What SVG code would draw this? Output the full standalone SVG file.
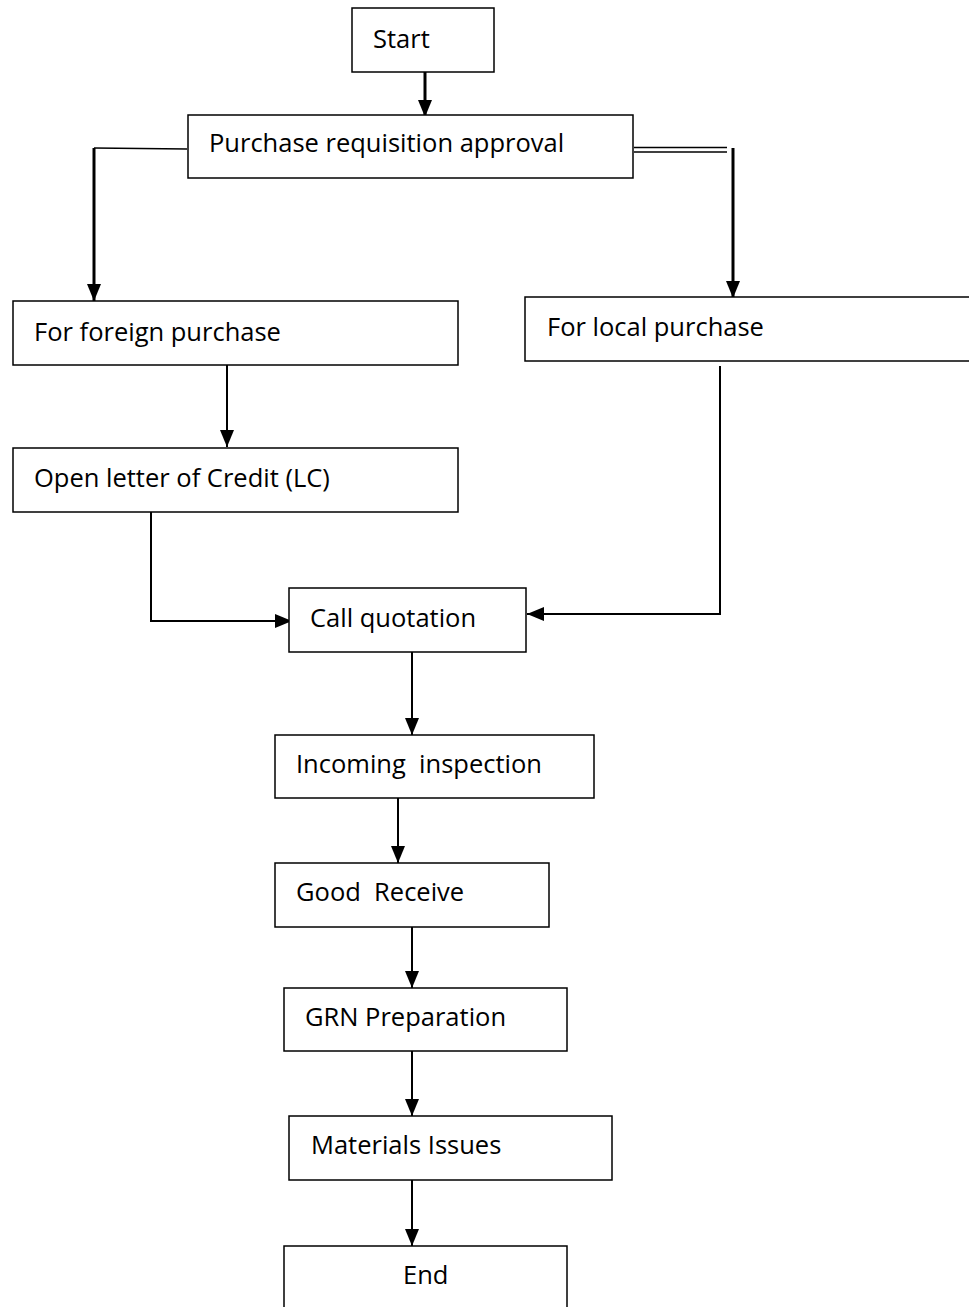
<svg xmlns="http://www.w3.org/2000/svg" width="969" height="1307" viewBox="0 0 969 1307">
<defs>
<style>
.box{fill:#fff;stroke:#000;stroke-width:1.5}
.lbl{font-family:"Open Sans","Noto Sans",sans-serif;font-size:25.5px;fill:#000}
.ln{fill:none;stroke:#000;stroke-width:1.5}
.ar{fill:none;stroke:#000;stroke-width:2}
.thk{stroke-width:3}
</style>
<marker id="ah" viewBox="0 0 17 14" refX="17" refY="7" markerWidth="17" markerHeight="14" markerUnits="userSpaceOnUse" orient="auto">
<path d="M0,0 L17,7 L0,14 Z" fill="#000"/>
</marker>
</defs>
<rect width="969" height="1307" fill="#fff"/>
<g id="connectors">
<line class="ar thk" x1="425" y1="72" x2="425" y2="117" marker-end="url(#ah)"/>
<polyline class="ln" points="187,149 94,148"/>
<line class="ar thk" x1="94" y1="148" x2="94" y2="301" marker-end="url(#ah)"/>
<line class="ln" x1="634" y1="147.5" x2="727" y2="147.5"/>
<line class="ln" x1="634" y1="152" x2="727" y2="152"/>
<line class="ar thk" x1="733" y1="148" x2="733" y2="298" marker-end="url(#ah)"/>
<line class="ar" x1="227" y1="362" x2="227" y2="447" marker-end="url(#ah)"/>
<polyline class="ar" points="151,507 151,621 292,621" marker-end="url(#ah)"/>
<polyline class="ar" points="720,366 720,614 527,614" marker-end="url(#ah)"/>
<line class="ar" x1="412" y1="652" x2="412" y2="735" marker-end="url(#ah)"/>
<line class="ar" x1="398" y1="798" x2="398" y2="863" marker-end="url(#ah)"/>
<line class="ar" x1="412" y1="927" x2="412" y2="988" marker-end="url(#ah)"/>
<line class="ar" x1="412" y1="1051" x2="412" y2="1116" marker-end="url(#ah)"/>
<line class="ar" x1="412" y1="1180" x2="412" y2="1246" marker-end="url(#ah)"/>
</g>
<g id="start"><rect class="box" x="352" y="8" width="142" height="64"/><text class="lbl" x="373" y="48">Start</text></g>
<g id="approval"><rect class="box" x="188" y="115" width="445" height="63"/><text class="lbl" x="209" y="152">Purchase requisition approval</text></g>
<g id="foreign"><rect class="box" x="13" y="301" width="445" height="64"/><text class="lbl" x="34" y="341">For foreign purchase</text></g>
<g id="local"><rect class="box" x="525" y="297" width="450" height="64"/><text class="lbl" x="547" y="336">For local purchase</text></g>
<g id="lc"><rect class="box" x="13" y="448" width="445" height="64"/><text class="lbl" x="34" y="487">Open letter of Credit (LC)</text></g>
<g id="quotation"><rect class="box" x="289" y="588" width="237" height="64"/><text class="lbl" x="310" y="627">Call quotation</text></g>
<g id="inspection"><rect class="box" x="275" y="735" width="319" height="63"/><text class="lbl" x="296" y="773" xml:space="preserve">Incoming  inspection</text></g>
<g id="receive"><rect class="box" x="275" y="863" width="274" height="64"/><text class="lbl" x="296" y="901" xml:space="preserve">Good  Receive</text></g>
<g id="grn"><rect class="box" x="284" y="988" width="283" height="63"/><text class="lbl" x="305" y="1026">GRN Preparation</text></g>
<g id="issues"><rect class="box" x="289" y="1116" width="323" height="64"/><text class="lbl" x="311" y="1154">Materials Issues</text></g>
<g id="end"><rect class="box" x="284" y="1246" width="283" height="70"/><text class="lbl" x="403" y="1284">End</text></g>
</svg>
